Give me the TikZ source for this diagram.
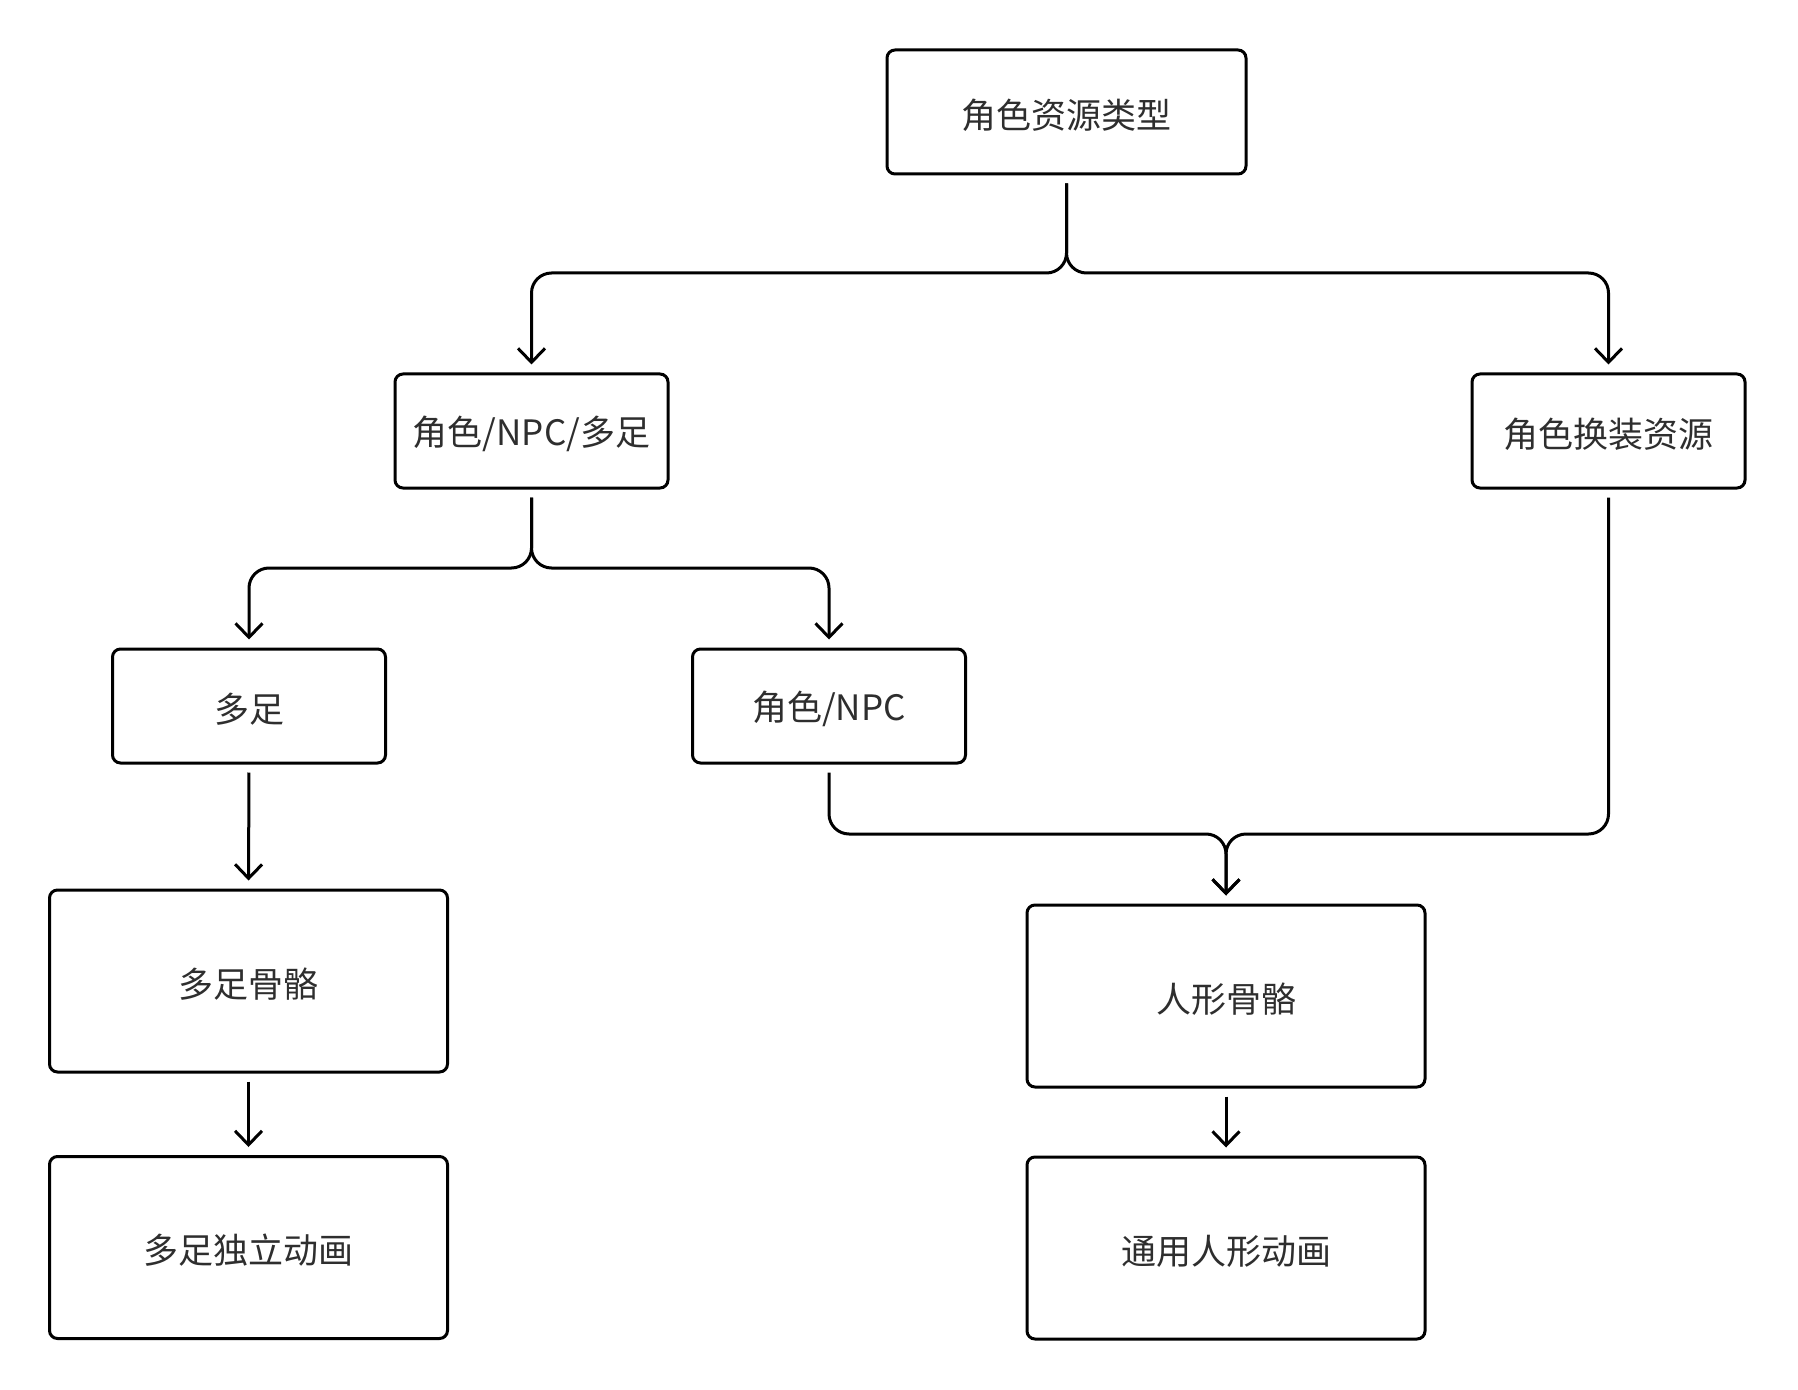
\documentclass[tikz,border=0pt]{standalone}
\usepackage{fontspec}
\newfontfamily\cjk{Noto Sans CJK SC}
\usetikzlibrary{arrows.meta}
\newcommand\lbl[1]{\raisebox{-1.5pt}[\height][\depth]{#1}}
\begin{document}
\begin{tikzpicture}[x=0.5pt,y=-0.5pt,
  box/.style={draw=black, line width=1.5pt, rounded corners=4pt, fill=white,
    inner sep=0pt, text=black!82, font=\cjk\fontsize{17.5}{21}\selectfont},
  smallbox/.style={box, minimum width=136.5pt, minimum height=57pt},
  bigbox/.style={box, minimum width=199pt, minimum height=91pt},
  conn/.style={draw=black, line width=1.5pt, rounded corners=10pt,
    shorten <=4pt, shorten >=4pt,
    -{Straight Barb[length=7pt,width=13.5pt,line width=1.5pt]}}
]
\useasboundingbox (0,0) rectangle (1798,1390);
\node[box, minimum width=179.5pt, minimum height=62pt] (top) at (1066.5,112) {\lbl{角色资源类型}};
\node[smallbox] (n1) at (531.5,431) {\lbl{角色/NPC/多足}};
\node[smallbox] (n2) at (1608.5,431) {\lbl{角色换装资源}};
\node[smallbox] (n3) at (249,706) {\lbl{多足}};
\node[smallbox] (n4) at (829,706) {\lbl{角色/NPC}};
\node[bigbox] (n5) at (248.5,981) {\lbl{多足骨骼}};
\node[bigbox] (n6) at (248.5,1247.5) {\lbl{多足独立动画}};
\node[bigbox] (n7) at (1226,996) {\lbl{人形骨骼}};
\node[bigbox] (n8) at (1226,1248) {\lbl{通用人形动画}};
\coordinate (s1) at (1066.5,273);
\coordinate (s2) at (531.5,568);
\coordinate (m1) at (1226,834);
\draw[conn] (top.south) -- (s1) -| (n1.north);
\draw[conn] (top.south) -- (s1) -| (n2.north);
\draw[conn] (n1.south) -- (s2) -| (n3.north);
\draw[conn] (n1.south) -- (s2) -| (n4.north);
\draw[conn] (n4.south) |- (m1) -- (n7.north);
\draw[conn] (n2.south) |- (m1) -- (n7.north);
\draw[conn] (n3.south) -- (n5.north);
\draw[conn] (n5.south) -- (n6.north);
\draw[conn] (n7.south) -- (n8.north);
\end{tikzpicture}
\end{document}
